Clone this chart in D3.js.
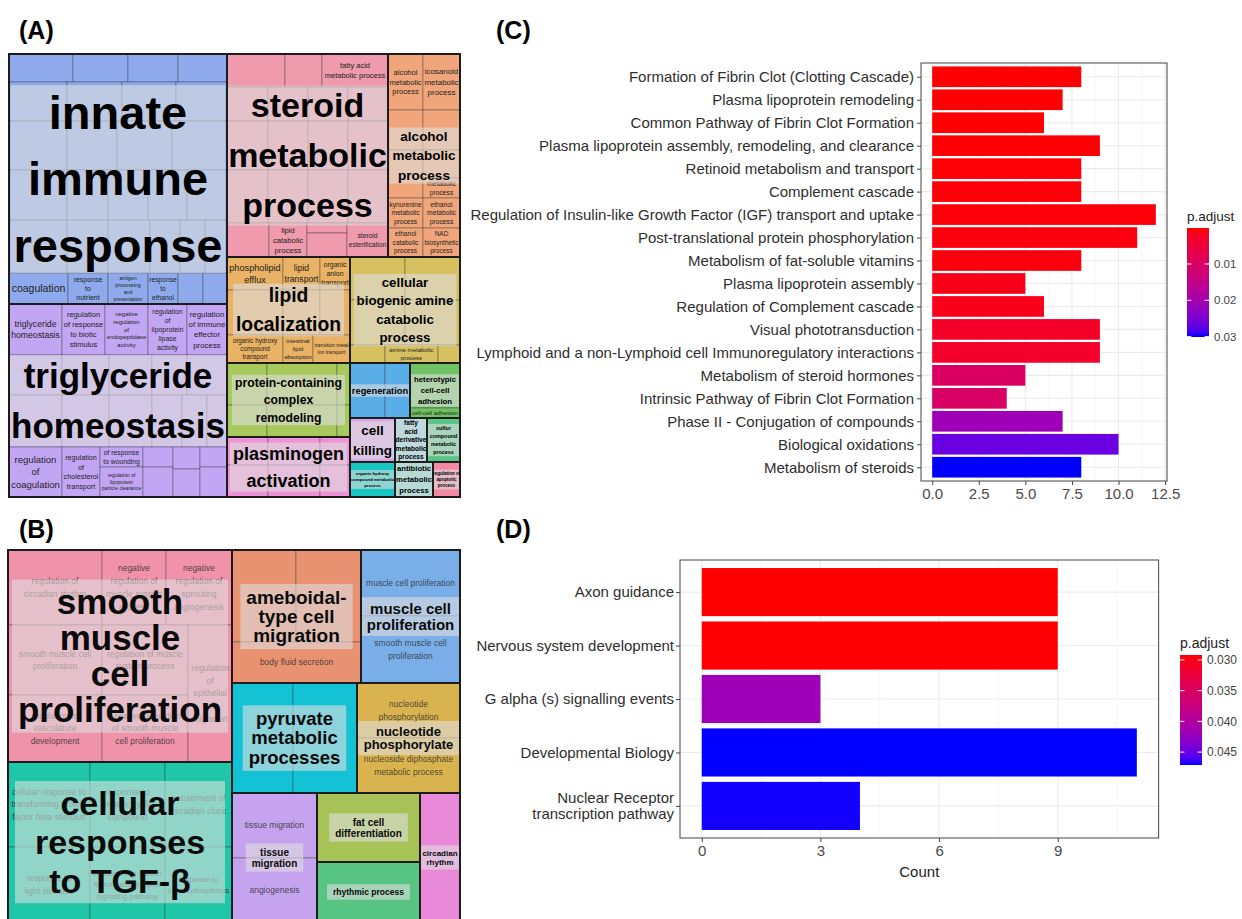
<!DOCTYPE html>
<html>
<head>
<meta charset="utf-8">
<script src="https://cdn.jsdelivr.net/npm/d3@7"></script>
<style>
  html, body { margin: 0; padding: 0; background: #fff; }
  svg { display: block; }
</style>
</head>
<body>
<svg id="fig" width="1242" height="919"></svg>
<script>
// ------------------------------------------------------------------
// Data
// ------------------------------------------------------------------

// Tree helpers: a GO term (value = term size), terms side by side,
// terms stacked, and a cluster of terms sharing one representative.
const term = (value, label) => ({ value, label });
const row = (...children) => ({ split: 'h', children });
const col = (...children) => ({ split: 'v', children });
const cluster = (group, split, ...children) => ({ group, split, children });
const single = (group, value) => ({ group, value });

// (A) GO biological processes, liver-enriched set
const goTreeA = row(
  col(
    cluster('innate immune response', 'v',
      row(term(1792), term(1540), term(1400), term(1372)),
      row(term(2262), term(2145), term(2106), term(1989)),
      row(term(2842), term(2450), term(2695), term(2695)),
      row(term(2900), term(2050), term(2000), term(1950), term(2000)),
      row(term(3074), term(2173), term(2226), term(1590), term(1325), term(1166)),
      row(term(1829, 'coagulation'), term(1240, 'response\nto\nnutrient'),
          term(1240, 'antigen\nprocessing\nand\npresentation'), term(930, 'response\nto\nethanol'),
          term(775), term(744))
    ),
    cluster('triglyceride homeostasis', 'v',
      row(term(2703, 'triglyceride\nhomeostasis'), term(2193, 'regulation\nof response\nto biotic\nstimulus'),
          term(2193, 'negative\nregulation\nof\nendopeptidase\nactivity'),
          term(1989, 'regulation\nof\nlipoprotein\nlipase\nactivity'),
          term(2040, 'regulation\nof immune\neffector\nprocess')),
      row(term(2120), term(1880), term(1720), term(1400), term(1600)),
      row(term(2756), term(2444), term(2236), term(1560), term(1300), term(1040)),
      row(term(2650, 'regulation\nof\ncoagulation'), term(1900, 'regulation\nof\ncholesterol\ntransport'),
          col(term(860, 'of response\nto wounding'), term(1290, 'regulation of\nlipoprotein\nparticle clearance')),
          col(term(600), term(900)), col(term(594), term(756)), col(term(540), term(810)))
    )
  ),
  col(
    row(
      cluster('steroid metabolic process', 'v',
        row(term(1914), term(1221), term(2178, 'fatty acid\nmetabolic process')),
        row(term(1394), term(1360), term(1360), term(1360)),
        row(term(2009), term(1960), term(1960), term(1960)),
        row(term(2173), term(2120), term(2120), term(2120)),
        row(term(1428), term(1292, 'lipid\ncatabolic\nprocess'), col(term(400), term(960)),
            term(1394, 'steroid\nesterification'))
      ),
      cluster('alcohol metabolic process', 'v',
        row(term(1960, 'alcohol\nmetabolic\nprocess'), term(2072, 'icosanoid\nmetabolic\nprocess')),
        row(term(1400), term(1480)),
        row(term(1680), col(term(1036), term(740, 'metabolic\nprocess'))),
        row(term(1050, 'kynurenine\nmetabolic\nprocess'), term(1110, 'ethanol\nmetabolic\nprocess')),
        row(term(1015, 'ethanol\ncatabolic\nprocess'), term(1073, 'NAD\nbiosynthetic\nprocess'))
      )
    ),
    row(
      cluster('lipid localization', 'v',
        row(term(1848, 'phospholipid\nefflux'), term(1221, 'lipid\ntransport'), term(990, 'organic\nanion\ntransport')),
        row(term(2520), term(1665), term(1350)),
        row(term(1568, 'organic hydroxy\ncompound\ntransport'), term(840, 'intestinal\nlipid\nabsorption'),
            term(1036, 'transition metal\nion transport'))
      ),
      cluster('cellular biogenic amine catabolic process', 'v',
        row(term(2365), term(2365)),
        row(term(2475), term(2475)),
        row(term(630), term(954, 'amine metabolic\nprocess'), term(396))
      )
    ),
    row(
      col(
        cluster('protein-containing complex remodeling', 'v',
          row(term(1680), term(2940), term(546)), row(term(1280), term(2240), term(416))),
        cluster('plasminogen activation', 'v',
          row(term(1148), term(1456), term(840)), row(term(1312), term(1664), term(960)))
      ),
      col(
        row(cluster('regeneration', 'h', term(1925), term(1375)),
            cluster('heterotypic cell-cell adhesion', 'v', term(2250), term(500, 'cell-cell adhesion'))),
        row(single('cell killing', 1980), single('fatty acid derivative metabolic process', 1408),
            single('sulfur compound metabolic process', 1452)),
        row(single('organic hydroxy compound metabolic process', 1575),
            single('antibiotic metabolic process', 1330), single('regulation of apoptotic process', 945))
      )
    )
  )
);

// (B) GO biological processes, second gene set
const goTreeB = row(
  col(
    cluster('smooth muscle cell proliferation', 'v',
      row(term(7050, 'regulation of\ncircadian rhythm'), term(4800, 'negative\nregulation of\nmuscle system\nprocess'),
          term(4950, 'negative\nregulation of\nsprouting\nangiogenesis')),
      row(
        col(row(term(6580, 'smooth muscle cell\nproliferation'), term(6020, 'regulation of muscle\nsystem process')),
            row(term(6298, 'regulation of\nvasculature\ndevelopment'), term(5762, 'negative regulation\nof smooth muscle\ncell proliferation'))),
        term(6028, 'regulation\nof\nepithelial\ncell\nmigration'))
    ),
    cluster('cellular responses to TGF-β', 'v',
      row(term(6970, 'cellular response to\ntransforming growth\nfactor beta stimulus'),
          term(6375, 'response to\norganic cyclic\ncompound'), term(5695, 'entrainment of\ncircadian clock')),
      row(term(6150, 'response to\nlight stimulus'),
          term(5625, 'transforming growth\nfactor beta receptor\nsignaling pathway'),
          term(5025, 'response to\norganophosphorus'))
    )
  ),
  col(
    row(
      cluster('ameboidal-type cell migration', 'v', row(term(5888), term(5980)), term(5289, 'body fluid secretion')),
      cluster('muscle cell proliferation', 'v', term(6534, 'muscle cell proliferation'),
              term(6633, 'smooth muscle cell\nproliferation'))
    ),
    row(
      cluster('pyruvate metabolic processes', 'h', term(6710), term(7040)),
      cluster('nucleotide phosphorylate', 'v', term(5665, 'nucleotide\nphosphorylation'),
              term(5665, 'nucleoside diphosphate\nmetabolic process'))
    ),
    row(
      cluster('tissue migration', 'v', term(5525, 'tissue migration'), term(5440, 'angiogenesis')),
      col(single('fat cell differentiation', 7107), single('rhythmic process', 6180)),
      single('circadian rhythm', 5160)
    )
  )
);

// (C) Reactome pathways
const pathwaysC = [
  'Formation of Fibrin Clot (Clotting Cascade)',
  'Plasma lipoprotein remodeling',
  'Common Pathway of Fibrin Clot Formation',
  'Plasma lipoprotein assembly, remodeling, and clearance',
  'Retinoid metabolism and transport',
  'Complement cascade',
  'Regulation of Insulin-like Growth Factor (IGF) transport and uptake',
  'Post-translational protein phosphorylation',
  'Metabolism of fat-soluble vitamins',
  'Plasma lipoprotein assembly',
  'Regulation of Complement cascade',
  'Visual phototransduction',
  'Lymphoid and a non-Lymphoid cell Immunoregulatory interactions',
  'Metabolism of steroid hormones',
  'Intrinsic Pathway of Fibrin Clot Formation',
  'Phase II - Conjugation of compounds',
  'Biological oxidations',
  'Metabolism of steroids'
];
const countC = [8, 7, 6, 9, 8, 8, 12, 11, 8, 5, 6, 9, 9, 5, 4, 7, 10, 8];
const padjC = [0.0001, 0.0002, 0.0002, 0.0003, 0.0004, 0.0005, 0.0006, 0.0007, 0.0008,
               0.0015, 0.0016, 0.0030, 0.0031, 0.0100, 0.0102, 0.0210, 0.0264, 0.0301];
const countTicksC = [0, 2.5, 5, 7.5, 10, 12.5];
const padjTicksC = [0.01, 0.02, 0.03];

// (D) Reactome pathways
const pathwaysD = [
  'Axon guidance',
  'Nervous system development',
  'G alpha (s) signalling events',
  'Developmental Biology',
  'Nuclear Receptor\ntranscription pathway'
];
const countD = [9, 9, 3, 11, 4];
const padjD = [0.0292, 0.0293, 0.0417, 0.0471, 0.0470];
const countTicksD = [0, 3, 6, 9];
const padjTicksD = [0.030, 0.035, 0.040, 0.045];

// ------------------------------------------------------------------
// Styles
// ------------------------------------------------------------------
const FONT = '"Liberation Sans", Arial, Helvetica, sans-serif';

const clusterColorsA = {
  'innate immune response': '#8eaaec',
  'triglyceride homeostasis': '#c3a6f3',
  'steroid metabolic process': '#ef9aad',
  'alcohol metabolic process': '#f0a67a',
  'lipid localization': '#e9b264',
  'cellular biogenic amine catabolic process': '#d6c060',
  'protein-containing complex remodeling': '#a8c95c',
  'plasminogen activation': '#ee93d6',
  'regeneration': '#5aaee8',
  'heterotypic cell-cell adhesion': '#71c264',
  'cell killing': '#d9a8e5',
  'fatty acid derivative metabolic process': '#8fd1dc',
  'sulfur compound metabolic process': '#5ac485',
  'organic hydroxy compound metabolic process': '#18c5c0',
  'antibiotic metabolic process': '#7fd4ce',
  'regulation of apoptotic process': '#f28aa6'
};
const clusterColorsB = {
  'smooth muscle cell proliferation': '#f092aa',
  'cellular responses to TGF-β': '#1fc6a8',
  'ameboidal-type cell migration': '#e99272',
  'muscle cell proliferation': '#7aaee8',
  'pyruvate metabolic processes': '#14c2d6',
  'nucleotide phosphorylate': '#d9b34f',
  'tissue migration': '#c5a3ee',
  'fat cell differentiation': '#a7c257',
  'rhythmic process': '#58c483',
  'circadian rhythm': '#e98ad8'
};

// Cluster headline typography: size in px, line height in em, line breaks
const headlinesA = {
  'innate immune response': { fs: 47, lh: 1.42, lines: ['innate', 'immune', 'response'] },
  'triglyceride homeostasis': { fs: 35, lh: 1.43, lines: ['triglyceride', 'homeostasis'] },
  'steroid metabolic process': { fs: 34, lh: 1.47, lines: ['steroid', 'metabolic', 'process'] },
  'alcohol metabolic process': { fs: 13.5, lh: 1.45, lines: ['alcohol', 'metabolic', 'process'] },
  'lipid localization': { fs: 19.3, lh: 1.5, lines: ['lipid', 'localization'] },
  'cellular biogenic amine catabolic process': { fs: 13.3, lh: 1.39, lines: ['cellular', 'biogenic amine', 'catabolic', 'process'] },
  'protein-containing complex remodeling': { fs: 12.2, lh: 1.43, lines: ['protein-containing', 'complex', 'remodeling'] },
  'plasminogen activation': { fs: 18, lh: 1.5, lines: ['plasminogen', 'activation'] },
  'regeneration': { fs: 9.3, lh: 1, lines: ['regeneration'] },
  'heterotypic cell-cell adhesion': { fs: 7.8, lh: 1.4, lines: ['heterotypic', 'cell-cell', 'adhesion'] },
  'cell killing': { fs: 13.5, lh: 1.48, lines: ['cell', 'killing'] },
  'fatty acid derivative metabolic process': { fs: 6.6, lh: 1.3, lines: ['fatty', 'acid', 'derivative', 'metabolic', 'process'] },
  'sulfur compound metabolic process': { fs: 5.4, lh: 1.5, lines: ['sulfur', 'compound', 'metabolic', 'process'] },
  'organic hydroxy compound metabolic process': { fs: 4.3, lh: 1.4, lines: ['organic hydroxy', 'compound metabolic', 'process'] },
  'antibiotic metabolic process': { fs: 7.7, lh: 1.45, lines: ['antibiotic', 'metabolic', 'process'] },
  'regulation of apoptotic process': { fs: 4.5, lh: 1.4, lines: ['regulation of', 'apoptotic', 'process'] }
};
const headlinesB = {
  'smooth muscle cell proliferation': { fs: 35, lh: 1.03, lines: ['smooth', 'muscle', 'cell', 'proliferation'] },
  'cellular responses to TGF-β': { fs: 34, lh: 1.15, lines: ['cellular', 'responses', 'to TGF-β'], padX: 20 },
  'ameboidal-type cell migration': { fs: 19, lh: 1.0, lines: ['ameboidal-', 'type cell', 'migration'] },
  'muscle cell proliferation': { fs: 15, lh: 1.07, lines: ['muscle cell', 'proliferation'] },
  'pyruvate metabolic processes': { fs: 18.5, lh: 1.05, lines: ['pyruvate', 'metabolic', 'processes'] },
  'nucleotide phosphorylate': { fs: 13, lh: 1.04, lines: ['nucleotide', 'phosphorylate'] },
  'tissue migration': { fs: 10, lh: 1.1, lines: ['tissue', 'migration'] },
  'fat cell differentiation': { fs: 10, lh: 1.1, lines: ['fat cell', 'differentiation'] },
  'rhythmic process': { fs: 8.5, lh: 1, lines: ['rhythmic process'] },
  'circadian rhythm': { fs: 8, lh: 1.15, lines: ['circadian', 'rhythm'] }
};

const treemapStyleA = {
  maxFs: 10.5, lh: 1.3, fill: 0.92, hfill: 0.88, leafColor: '#1e1e1e',
  cellStroke: 'rgba(45,45,45,0.45)', groupStroke: '#1c1c1c', groupW: 1.8,
  backdrop: 'rgba(222,222,222,0.6)', padX: 3, padY: 1, bigColor: '#000'
};
const treemapStyleB = {
  maxFs: 8.5, lh: 1.5, fill: 0.92, hfill: 0.88, leafColor: 'rgba(35,35,35,0.78)',
  cellStroke: 'rgba(45,45,45,0.45)', groupStroke: '#1c1c1c', groupW: 1.8,
  backdrop: 'rgba(222,222,222,0.6)', padX: 6, padY: 3, bigColor: '#0a0a0a'
};

// ------------------------------------------------------------------
// Helpers
// ------------------------------------------------------------------
const svg = d3.select('#fig').attr('font-family', FONT);
svg.append('rect').attr('width', 1242).attr('height', 919).attr('fill', '#fff');
const defs = svg.append('defs');

const measureCtx = document.createElement('canvas').getContext('2d');
function textWidth(s, px, weight) {
  measureCtx.font = `${weight || 'normal'} ${px}px "Liberation Sans", Arial, sans-serif`;
  return measureCtx.measureText(s).width;
}

function multiline(g, lines, cx, cy, fs, lh, weight, fill) {
  const t = g.append('text')
    .attr('text-anchor', 'middle')
    .attr('font-size', fs)
    .attr('font-weight', weight)
    .attr('fill', fill);
  const n = lines.length;
  lines.forEach((s, i) => {
    t.append('tspan')
      .attr('x', cx)
      .attr('y', cy + (i - (n - 1) / 2) * lh * fs + 0.35 * fs)
      .text(s);
  });
  return t;
}

// Split each node along x ('h') or y ('v') in proportion to term sizes
function tile(node, x0, y0, x1, y1) {
  (node.data.split === 'h' ? d3.treemapDice : d3.treemapSlice)(node, x0, y0, x1, y1);
}

function drawTreemap(tree, box, colors, headlines, st) {
  const [bx0, by0, bx1, by1] = box;
  const g = svg.append('g').attr('transform', `translate(${bx0},${by0})`);
  const root = d3.hierarchy(tree).sum(d => (d.children ? 0 : d.value));
  d3.treemap().tile(tile).size([bx1 - bx0, by1 - by0])(root);
  root.each(n => { n.cluster = n.data.group ? n : (n.parent ? n.parent.cluster : null); });
  const leaves = root.leaves();
  const clusters = root.descendants().filter(n => n.data.group);

  // term cells
  g.selectAll('rect.cell').data(leaves).join('rect')
    .attr('class', 'cell')
    .attr('x', d => d.x0).attr('y', d => d.y0)
    .attr('width', d => d.x1 - d.x0).attr('height', d => d.y1 - d.y0)
    .attr('fill', d => colors[d.cluster.data.group])
    .attr('stroke', st.cellStroke).attr('stroke-width', 0.8);

  // term labels, scaled to fit their cell
  leaves.filter(d => d.data.label).forEach(d => {
    const lines = d.data.label.split('\n');
    const w = d.x1 - d.x0, h = d.y1 - d.y0;
    const unitW = d3.max(lines, s => textWidth(s, 100)) / 100;
    const fs = Math.min(st.maxFs, st.fill * w / unitW, st.hfill * h / (lines.length * st.lh));
    if (fs < 3) return;
    multiline(g, lines, (d.x0 + d.x1) / 2, (d.y0 + d.y1) / 2, fs, st.lh, 'normal', st.leafColor);
  });

  // translucent backdrops behind cluster headlines
  clusters.forEach(n => {
    const h = headlines[n.data.group];
    const cx = (n.x0 + n.x1) / 2, cy = (n.y0 + n.y1) / 2;
    const maxW = d3.max(h.lines, s => textWidth(s, h.fs, 'bold'));
    const k = h.lines.length;
    const px = h.padX != null ? h.padX : st.padX;
    let x0 = cx - maxW / 2 - px, x1 = cx + maxW / 2 + px;
    let y0 = cy - (k - 1) / 2 * h.lh * h.fs + 0.35 * h.fs - 0.905 * h.fs - st.padY;
    let y1 = cy + (k - 1) / 2 * h.lh * h.fs + 0.35 * h.fs + 0.212 * h.fs + st.padY;
    x0 = Math.max(x0, n.x0); x1 = Math.min(x1, n.x1);
    y0 = Math.max(y0, n.y0); y1 = Math.min(y1, n.y1);
    g.append('rect').attr('x', x0).attr('y', y0)
      .attr('width', x1 - x0).attr('height', y1 - y0)
      .attr('fill', st.backdrop);
  });

  // cluster outlines and outer frame
  g.selectAll('rect.cluster').data(clusters).join('rect')
    .attr('class', 'cluster')
    .attr('x', d => d.x0).attr('y', d => d.y0)
    .attr('width', d => d.x1 - d.x0).attr('height', d => d.y1 - d.y0)
    .attr('fill', 'none').attr('stroke', st.groupStroke).attr('stroke-width', st.groupW);
  g.append('rect').attr('x', 0).attr('y', 0)
    .attr('width', bx1 - bx0).attr('height', by1 - by0)
    .attr('fill', 'none').attr('stroke', st.groupStroke).attr('stroke-width', 2);

  // cluster headlines
  clusters.forEach(n => {
    const h = headlines[n.data.group];
    multiline(g, h.lines, (n.x0 + n.x1) / 2, (n.y0 + n.y1) / 2, h.fs, h.lh, 'bold', st.bigColor);
  });
}

function drawBarPanel(cfg) {
  const { cats, counts, padj, ticks, pTicks, panel, cbar, id } = cfg;
  const maxCount = d3.max(counts);
  const x = d3.scaleLinear().domain([-0.05 * maxCount, 1.05 * maxCount]).range([panel.x0, panel.x1]);
  const y = d3.scalePoint().domain(cats).range([panel.y0, panel.y1]).padding(0.6);
  const barH = 0.9 * y.step();
  const pExtent = d3.extent(padj);
  const fillScale = d3.scaleLinear().domain(pExtent).range(['#ff0000', '#0000ff']).interpolate(d3.interpolateLab);

  const g = svg.append('g');

  // grid
  const step = ticks[1] - ticks[0];
  const minor = d3.range(ticks[0] - step / 2, x.domain()[1], step).filter(v => v > x.domain()[0]);
  g.selectAll('line.minor').data(minor).join('line').attr('class', 'minor')
    .attr('x1', d => x(d)).attr('x2', d => x(d)).attr('y1', panel.y0).attr('y2', panel.y1)
    .attr('stroke', '#f2f2f2').attr('stroke-width', 0.6);
  g.selectAll('line.vmajor').data(ticks).join('line').attr('class', 'vmajor')
    .attr('x1', d => x(d)).attr('x2', d => x(d)).attr('y1', panel.y0).attr('y2', panel.y1)
    .attr('stroke', '#ebebeb').attr('stroke-width', 1.1);
  g.selectAll('line.hmajor').data(cats).join('line').attr('class', 'hmajor')
    .attr('x1', panel.x0).attr('x2', panel.x1).attr('y1', d => y(d)).attr('y2', d => y(d))
    .attr('stroke', '#ebebeb').attr('stroke-width', 1.1);

  // bars
  g.selectAll('rect.bar').data(cats).join('rect').attr('class', 'bar')
    .attr('x', x(0))
    .attr('y', d => y(d) - barH / 2)
    .attr('width', (d, i) => x(counts[i]) - x(0))
    .attr('height', barH)
    .attr('fill', (d, i) => fillScale(padj[i]));

  // panel border
  g.append('rect').attr('x', panel.x0).attr('y', panel.y0)
    .attr('width', panel.x1 - panel.x0).attr('height', panel.y1 - panel.y0)
    .attr('fill', 'none').attr('stroke', '#555').attr('stroke-width', 1.1);

  // y axis (pathway names)
  const ay = g.append('g').attr('transform', `translate(${panel.x0},0)`)
    .call(d3.axisLeft(y).tickSize(4).tickPadding(cfg.yPad));
  ay.attr('font-family', FONT).attr('font-size', cfg.yFs);
  ay.select('.domain').remove();
  ay.selectAll('line').attr('stroke', '#444');
  ay.selectAll('text').attr('fill', '#2e2e2e').each(function (d) {
    const lines = d.split('\n');
    if (lines.length < 2) return;
    const t = d3.select(this).text(null);
    const xx = t.attr('x');
    lines.forEach((s, i) => {
      t.append('tspan').attr('x', xx)
        .attr('dy', i === 0 ? `${0.32 - (lines.length - 1) / 2 * 1.07}em` : '1.07em')
        .text(s);
    });
    t.attr('dy', null);
  });

  // x axis (counts)
  const ax = g.append('g').attr('transform', `translate(0,${panel.y1})`)
    .call(d3.axisBottom(x).tickValues(ticks).tickFormat(cfg.fmt).tickSize(4).tickPadding(3));
  ax.attr('font-family', FONT).attr('font-size', cfg.xFs);
  ax.select('.domain').remove();
  ax.selectAll('line').attr('stroke', '#444');
  ax.selectAll('text').attr('fill', '#4a4a4a');

  if (cfg.xTitle) {
    g.append('text').attr('x', (panel.x0 + panel.x1) / 2).attr('y', cfg.xTitleY)
      .attr('text-anchor', 'middle').attr('font-size', cfg.xFs).attr('fill', '#222')
      .text(cfg.xTitle);
  }

  // colour bar legend
  const grad = defs.append('linearGradient').attr('id', id)
    .attr('x1', 0).attr('y1', 0).attr('x2', 0).attr('y2', 1);
  d3.range(0, 1.0001, 0.05).forEach(t => {
    grad.append('stop').attr('offset', t)
      .attr('stop-color', fillScale(pExtent[0] + t * (pExtent[1] - pExtent[0])));
  });
  const yc = d3.scaleLinear().domain(pExtent).range([cbar.y0, cbar.y1]);
  g.append('rect').attr('x', cbar.x).attr('y', cbar.y0)
    .attr('width', cbar.w).attr('height', cbar.y1 - cbar.y0)
    .attr('fill', `url(#${id})`);
  pTicks.forEach(v => {
    const yy = yc(v);
    g.append('line').attr('x1', cbar.x).attr('x2', cbar.x + cbar.w * 0.2)
      .attr('y1', yy).attr('y2', yy).attr('stroke', '#fff').attr('stroke-width', 1);
    g.append('line').attr('x1', cbar.x + cbar.w * 0.8).attr('x2', cbar.x + cbar.w)
      .attr('y1', yy).attr('y2', yy).attr('stroke', '#fff').attr('stroke-width', 1);
    g.append('text').attr('x', cbar.x + cbar.w + 5).attr('y', yy).attr('dy', '0.35em')
      .attr('font-size', cbar.fs).attr('fill', '#444').text(cbar.fmt(v));
  });
  g.append('text').attr('x', cbar.x).attr('y', cbar.titleY)
    .attr('font-size', cbar.titleFs).attr('fill', '#222').text('p.adjust');
}

// ------------------------------------------------------------------
// Panels
// ------------------------------------------------------------------
drawTreemap(goTreeA, [9, 54, 460, 497], clusterColorsA, headlinesA, treemapStyleA);
drawTreemap(goTreeB, [8, 550, 460, 922], clusterColorsB, headlinesB, treemapStyleB);

drawBarPanel({
  id: 'padjC', cats: pathwaysC, counts: countC, padj: padjC,
  ticks: countTicksC, pTicks: padjTicksC, fmt: d3.format('.1f'),
  panel: { x0: 921, x1: 1167, y0: 63, y1: 481 },
  yFs: 15, xFs: 15, yPad: 3,
  cbar: { x: 1187, w: 22, y0: 228, y1: 337, fs: 11.5, fmt: d3.format('.2f'), titleY: 221, titleFs: 13.5 }
});

drawBarPanel({
  id: 'padjD', cats: pathwaysD, counts: countD, padj: padjD,
  ticks: countTicksD, pTicks: padjTicksD, fmt: d3.format('d'),
  panel: { x0: 680, x1: 1158.6, y0: 560, y1: 838 },
  yFs: 15, xFs: 15, yPad: 2, xTitle: 'Count', xTitleY: 877,
  cbar: { x: 1180, w: 22, y0: 655, y1: 765, fs: 12, fmt: d3.format('.3f'), titleY: 648, titleFs: 14 }
});

// panel tags
[['(A)', 19, 39], ['(C)', 496, 39], ['(B)', 19, 538], ['(D)', 496, 538]].forEach(([s, x, y]) => {
  svg.append('text').attr('x', x).attr('y', y)
    .attr('font-size', 25).attr('font-weight', 'bold').attr('fill', '#000').text(s);
});
</script>
</body>
</html>
